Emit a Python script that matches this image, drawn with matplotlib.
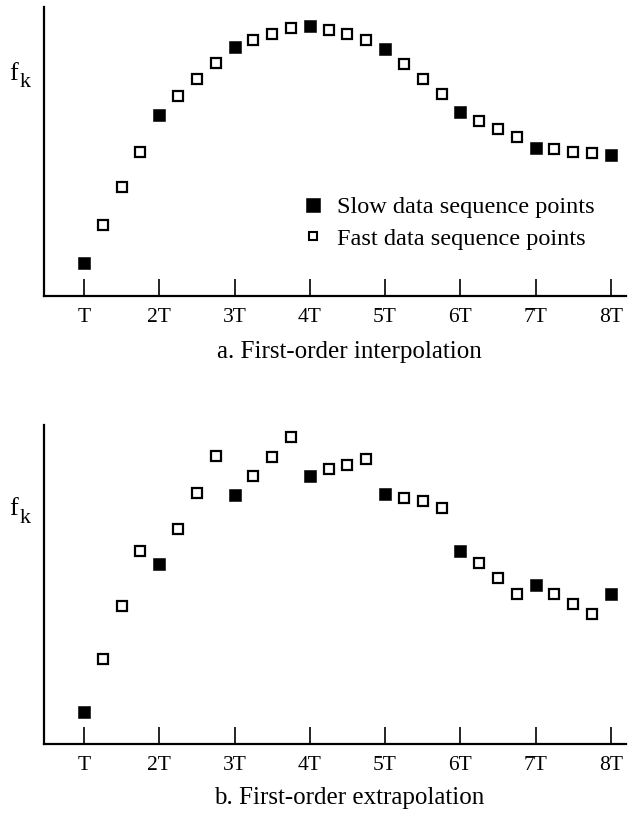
import matplotlib
matplotlib.use("Agg")
import matplotlib.pyplot as plt
from matplotlib.lines import Line2D

plt.rcParams['font.family'] = ['Liberation Serif', 'DejaVu Serif']

# ---- data ----
tick_labels = ['T', '2T', '3T', '4T', '5T', '6T', '7T', '8T']
slow_t = [1, 2, 3, 4, 5, 6, 7, 8]
fast_t = [1.25, 1.5, 1.75, 2.25, 2.5, 2.75, 3.25, 3.5, 3.75,
          4.25, 4.5, 4.75, 5.25, 5.5, 5.75, 6.25, 6.5, 6.75,
          7.25, 7.5, 7.75]

slow_interp = [100, 545, 750, 812, 745, 555, 447, 424]
fast_interp = [215, 328, 435, 602, 652, 700, 770, 790, 807,
               802, 790, 772, 697, 652, 607, 527, 502, 478,
               442, 435, 430]

slow_extrap = [95, 540, 748, 805, 751, 581, 476, 450]
fast_extrap = [255, 415, 581, 645, 755, 865, 805, 861, 921,
               825, 837, 855, 740, 730, 710, 543, 500, 451,
               451, 421, 390]

captions = ['a. First-order interpolation', 'b. First-order extrapolation']
legend_labels = ['Slow data sequence points', 'Fast data sequence points']

fig = plt.figure(figsize=(6.3, 8.16), dpi=100)
W, H = 630, 816

def make_axes(top_px, bottom_px):
    left_px, right_px = 44, 626
    return fig.add_axes([left_px / W, 1 - bottom_px / H,
                         (right_px - left_px) / W, (bottom_px - top_px) / H])

panels = [
    (make_axes(7, 296), slow_interp, fast_interp, 870, 358, 0.747, 0.723),
    (make_axes(425, 744), slow_extrap, fast_extrap, 958, 804, 0.718, 0.693),
]

for i, (ax, slow, fast, ymax, cap_y, f_y, k_y) in enumerate(panels):
    ax.plot(fast_t, fast, linestyle='none', marker='s', markersize=6.6,
            markerfacecolor='white', markeredgecolor='black',
            markeredgewidth=1.6, zorder=3)
    ax.plot(slow_t, slow, linestyle='none', marker='s', markersize=8.6,
            markerfacecolor='black', markeredgecolor='black',
            markeredgewidth=0.4, zorder=3)
    ax.set_xlim(0.469, 8.2)
    ax.set_ylim(0, ymax)
    for s in ['top', 'right']:
        ax.spines[s].set_visible(False)
    for s in ['left', 'bottom']:
        ax.spines[s].set_linewidth(1.6)
    ax.set_xticks(slow_t)
    ax.set_xticklabels(tick_labels)
    ax.tick_params(axis='x', direction='in', length=12, width=1.2,
                   pad=9, labelsize=15.5)
    ax.set_yticks([])
    # y-axis label f with a near full-size subscript k
    ax.text(-0.059, f_y, 'f', transform=ax.transAxes,
            ha='left', va='baseline', fontsize=19)
    ax.text(-0.042, k_y, 'k', transform=ax.transAxes,
            ha='left', va='baseline', fontsize=16)
    fig.text(349 / W, 1 - cap_y / H, captions[i], ha='center',
             va='baseline', fontsize=18)

ax0 = panels[0][0]
handles = [
    Line2D([], [], linestyle='none', marker='s', markersize=9.5,
           markerfacecolor='black', markeredgecolor='black', markeredgewidth=0.4),
    Line2D([], [], linestyle='none', marker='s', markersize=6.0,
           markerfacecolor='white', markeredgecolor='black', markeredgewidth=1.5),
]
ax0.legend(handles, legend_labels, loc='upper left',
           bbox_to_anchor=(301 / W, 1 - 196 / H), bbox_transform=fig.transFigure,
           frameon=False, fontsize=17.5, handlelength=1.0, handletextpad=0.48,
           labelspacing=0.4, borderpad=0, borderaxespad=0)

fig.savefig('out.png', dpi=100)
